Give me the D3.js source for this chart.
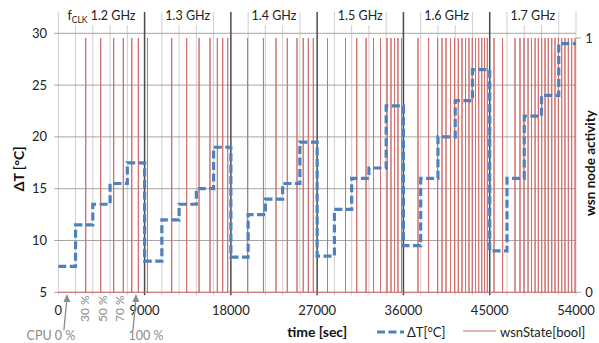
<!DOCTYPE html>
<html>
<head>
<meta charset="utf-8">
<script src="https://cdn.jsdelivr.net/npm/d3@7"></script>
<style>
  body { margin: 0; background: #fff; }
  text { font-family: Lato, "Liberation Sans", sans-serif; }
</style>
</head>
<body>
<svg id="chart"></svg>
<script>
// step length of the temperature series (sec)
const stepSec = 1800;
// ΔT level of each 1800 s step
const dtLevels = [7.5, 11.5, 13.5, 15.5, 17.5,
                  8, 12, 13.5, 15, 19,
                  8.4, 12.5, 14, 15.5, 19.5,
                  8.5, 13, 16, 17, 23,
                  9.5, 16, 20, 23.5, 26.5,
                  9, 16, 22, 24, 29];
// times (sec) where wsnState pulses to 1
const wsnEvents = [2860, 4420, 5780, 6780, 7660, 8350,
  9300, 11830, 13390, 14680, 15820, 16590, 17150, 17670,
  19740, 21400, 22710, 23890, 24900, 25550, 26080, 26600,
  28080, 29960, 31130, 32100, 32880, 33610, 34290, 34700, 35070, 35430, 35800,
  37520, 38620, 39560, 40020, 40440, 40910, 41330, 41720, 42110, 42480, 42840,
  43180, 43520, 43850, 44170, 44460, 44750,
  45450, 46340, 47640, 48160, 48580, 49000, 49360, 49730, 50070, 50420, 50770,
  51110, 51470, 51810, 52160, 52510, 52850, 53200, 53550, 53900];
const freqLabels = ["1.2 GHz", "1.3 GHz", "1.4 GHz", "1.5 GHz", "1.6 GHz", "1.7 GHz"];
const xTicks = [0, 9000, 18000, 27000, 36000, 45000, 54000];
const yTicks = [5, 10, 15, 20, 25, 30];
const yRightTicks = [0, 1];
const cpuLoadLabels = ["30 %", "50 %", "70 %"];
const cpuLoadTimes = [2700, 4500, 6300];

const width = 599, height = 343;
const svg = d3.select("#chart").attr("width", width).attr("height", height);

const x = d3.scaleLinear().domain([0, 54000]).range([58.3, 576]);
const y = d3.scaleLinear().domain([5, 30]).range([292.3, 33.3]);
const yR = d3.scaleLinear().domain([0, 1]).range([292.3, 38]);

const gridTop = 12;

// vertical grid every 1800 s (extends slightly below axis as tick)
const vTimes = d3.range(0, 54000 + 1, stepSec);
svg.append("g").selectAll("line")
  .data(vTimes.filter(t => t % 9000 !== 0 || t === 0 || t === 54000))
  .join("line")
  .attr("x1", d => x(d)).attr("x2", d => x(d))
  .attr("y1", gridTop).attr("y2", y(5) + 3)
  .attr("stroke", "#cfcfcf").attr("stroke-width", 1);

// horizontal grid
svg.append("g").selectAll("line")
  .data(yTicks)
  .join("line")
  .attr("x1", x(0) - 4).attr("x2", x(54000))
  .attr("y1", d => y(d)).attr("y2", d => y(d))
  .attr("stroke", "#a6a6a6").attr("stroke-width", 1);

// dark frequency separators
svg.append("g").selectAll("line")
  .data(xTicks.filter(t => t > 0 && t < 54000))
  .join("line")
  .attr("x1", d => x(d)).attr("x2", d => x(d))
  .attr("y1", gridTop).attr("y2", y(5) + 3)
  .attr("stroke", "#4a4a4a").attr("stroke-width", 1.5);

// right axis ticks
svg.append("g").selectAll("line")
  .data(yRightTicks)
  .join("line")
  .attr("x1", x(54000)).attr("x2", x(54000) + 5)
  .attr("y1", d => yR(d)).attr("y2", d => yR(d))
  .attr("stroke", "#a6a6a6");

// wsnState pulses
const wsnPts = [[0, 0]];
wsnEvents.forEach(t => { wsnPts.push([t, 0], [t, 1], [t, 0]); });
wsnPts.push([54000, 0]);
svg.append("path")
  .datum(wsnPts)
  .attr("fill", "none")
  .attr("stroke", "#d0706e")
  .attr("stroke-width", 1)
  .attr("d", d3.line().x(d => x(d[0])).y(d => yR(d[1])));

// ΔT step line
const dtPts = dtLevels.map((v, i) => [i * stepSec, v]);
dtPts.push([54000, dtLevels[dtLevels.length - 1]]);
svg.append("path")
  .datum(dtPts)
  .attr("fill", "none")
  .attr("stroke", "#4f81bd")
  .attr("stroke-width", 3.2)
  .attr("stroke-dasharray", "8,3.5")
  .attr("d", d3.line().curve(d3.curveStepAfter).x(d => x(d[0])).y(d => y(d[1])));

// frequency labels on white boxes
freqLabels.forEach((lab, i) => {
  const x0 = i === 0 ? x(0) + 2 : x(i * 9000 + stepSec) + 1.5;
  const x1 = i === 0 ? x(9000) - 2 : x((i + 1) * 9000 - stepSec) - 1.5;
  svg.append("rect")
    .attr("x", x0).attr("y", 9).attr("width", x1 - x0).attr("height", 16)
    .attr("fill", "#fff");
  const t = svg.append("text")
    .attr("x", (x0 + x1) / 2).attr("y", 20)
    .attr("text-anchor", "middle")
    .attr("font-size", 12.5).attr("fill", "#222");
  if (i === 0) {
    t.append("tspan").text("f");
    t.append("tspan").attr("font-size", 8.5).attr("dy", 3).text("CLK");
    t.append("tspan").attr("dy", -3).text(" " + lab);
  } else {
    t.text(lab);
  }
});

// left tick labels
svg.append("g").selectAll("text")
  .data(yTicks)
  .join("text")
  .attr("x", 47).attr("y", d => y(d)).attr("dy", "0.35em")
  .attr("text-anchor", "end").attr("font-size", 13).attr("fill", "#222")
  .text(d => d);

// bottom tick labels
svg.append("g").selectAll("text")
  .data(xTicks)
  .join("text")
  .attr("x", d => x(d)).attr("y", 315)
  .attr("text-anchor", "middle").attr("font-size", 13).attr("fill", "#222")
  .text(d => d);

// right tick labels
svg.append("g").selectAll("text")
  .data(yRightTicks)
  .join("text")
  .attr("x", 589).attr("y", d => yR(d)).attr("dy", "0.35em")
  .attr("text-anchor", "middle").attr("font-size", 13).attr("fill", "#222")
  .text(d => d);

// axis titles
svg.append("text")
  .attr("transform", `translate(24,${(y(5) + y(30)) / 2 + 6}) rotate(-90)`)
  .attr("text-anchor", "middle").attr("font-size", 14).attr("font-weight", "bold")
  .attr("fill", "#111").text("ΔT [°C]");
svg.append("text")
  .attr("transform", `translate(590,163) rotate(-90)`)
  .attr("text-anchor", "middle").attr("dy", "0.35em")
  .attr("font-size", 13.5).attr("font-weight", "bold")
  .attr("fill", "#111").text("wsn node activity");
svg.append("text")
  .attr("x", (x(0) + x(54000)) / 2).attr("y", 337)
  .attr("text-anchor", "middle").attr("font-size", 14).attr("font-weight", "bold")
  .attr("fill", "#111").text("time [sec]");

// CPU load annotations
const annoColor = "#8c8c8c";
svg.append("g").selectAll("text")
  .data(cpuLoadLabels)
  .join("text")
  .attr("transform", (d, i) => `translate(${x(cpuLoadTimes[i]) + 1},322) rotate(-90)`)
  .attr("dy", "0.35em").attr("font-size", 12).attr("fill", annoColor)
  .text(d => d);

function arrow(t, label, dx) {
  const xt = x(t);
  svg.append("line")
    .attr("x1", xt).attr("y1", 298).attr("x2", xt - 3).attr("y2", 330)
    .attr("stroke", annoColor).attr("stroke-width", 1.3);
  svg.append("path")
    .attr("d", `M${xt},294 L${xt - 3.5},302 L${xt + 3.5},302 Z`)
    .attr("fill", annoColor);
  svg.append("text")
    .attr("x", xt + dx).attr("y", 340)
    .attr("text-anchor", "middle").attr("font-size", 12.5).attr("fill", annoColor)
    .text(label);
}
arrow(900, "CPU 0 %", -16);
arrow(8100, "100 %", 10);

// legend
svg.append("line")
  .attr("x1", 377).attr("x2", 404).attr("y1", 332).attr("y2", 332)
  .attr("stroke", "#4f81bd").attr("stroke-width", 3.2).attr("stroke-dasharray", "8,3.5");
svg.append("text")
  .attr("x", 407).attr("y", 337).attr("font-size", 13).attr("fill", "#222")
  .text("ΔT[°C]");
svg.append("line")
  .attr("x1", 463).attr("x2", 496).attr("y1", 331).attr("y2", 331)
  .attr("stroke", "#d0706e").attr("stroke-width", 1);
svg.append("text")
  .attr("x", 500).attr("y", 337).attr("font-size", 13).attr("fill", "#222")
  .text("wsnState[bool]");
</script>
</body>
</html>
